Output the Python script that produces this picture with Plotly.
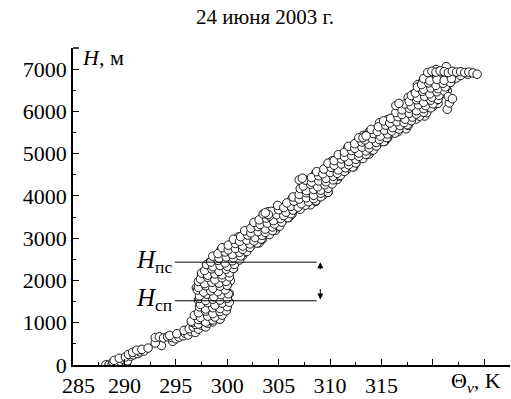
import plotly.graph_objects as go

# ---------------- data ----------------
theta_low = [288.2, 288.5, 288.8, 289.1, 289.4, 289.7, 290.0, 290.2, 288.9, 289.3,
             289.6, 289.0, 289.9, 290.3, 289.5, 290.1, 290.6, 290.4, 290.9, 291.3,
             290.8, 291.5, 291.9, 291.2, 291.7, 292.3, 293.6, 293.0, 294.7, 293.0,
             293.4, 293.8, 294.2, 294.6, 295.0, 295.3, 294.4, 295.7, 295.1, 295.9,
             296.2, 296.5, 295.8, 296.9, 296.3, 296.7, 297.2, 297.5, 296.9, 297.9]
h_low = [5, 0, 15, 0, 10, 25, 5, 40, 70, 55,
         90, 110, 130, 100, 160, 190, 210, 250, 240, 270,
         300, 310, 330, 350, 370, 400, 460, 520, 560, 650,
         665, 640, 670, 650, 620, 660, 700, 690, 740, 750,
         710, 790, 820, 770, 860, 900, 850, 940, 960, 900]

theta_mid = [
    296.6, 297.2, 297.7, 298.1, 298.6,   297.3, 297.9, 298.4, 298.9, 299.3,
    297.2, 297.8, 298.4, 299.0, 299.3,   297.7, 298.3, 298.8, 299.2, 299.7,
    298.0, 298.6, 299.1, 299.6, 300.0,   297.2, 298.0, 298.8, 299.6, 300.0,
    297.4, 298.2, 298.8, 299.4, 300.0,   297.6, 298.3, 299.0, 299.6, 300.2,
    297.0, 297.8, 298.6, 299.4, 299.8,   297.3, 298.1, 298.7, 299.3, 299.9,
    297.7, 298.4, 299.1, 299.7, 300.3,   297.5, 298.2, 298.9, 299.6, 300.0,
    298.0, 298.7, 299.2, 299.7, 300.2,   298.4, 299.1, 299.6, 300.2, 300.6,
    298.3, 299.0, 299.6, 300.3, 300.6,   298.8, 299.5, 300.0, 300.5, 301.0,
    299.3, 300.0, 300.5, 301.1, 301.5,   299.4, 300.0, 300.7, 301.4, 301.7,
    300.1, 300.8, 301.3, 301.8, 302.3,   300.9, 301.6, 302.1, 302.7, 303.1,
    301.1, 301.7, 302.4, 303.1, 303.4,   301.8, 302.5, 303.0, 303.5, 304.0,
    302.5, 303.2, 303.7, 304.3, 304.7,   302.6, 303.2, 303.9, 304.6, 304.9,
    303.2, 303.9, 304.4, 304.9, 305.4,   303.8, 304.5, 305.0, 305.6, 306.0,
    304.0, 304.6, 305.3, 306.0, 306.3,   304.9, 305.6, 306.1, 306.6, 307.1,
    305.9, 306.6, 307.1, 307.7, 308.1,   306.3, 306.9, 307.6, 308.3, 308.6,
    307.1, 307.8, 308.3, 308.8, 309.3,   307.6, 308.3, 308.8, 309.4, 309.8,
    307.4, 308.0, 308.7, 309.4, 309.7,   307.3, 308.3, 309.0, 309.6, 310.2,
    308.3, 309.1, 309.7, 310.3, 310.7,   308.6, 309.2, 309.9, 310.6, 310.9,
    309.4, 310.1, 310.6, 311.1, 311.6,   310.1, 310.8, 311.3, 311.9, 312.3,
    310.2, 310.8, 311.5, 312.2, 312.5,   310.9, 311.6, 312.1, 312.6, 313.1,
    311.6, 312.3, 312.8, 313.4, 313.8,   311.7, 312.3, 313.0, 313.7, 314.0,
    312.4, 313.1, 313.6, 314.1, 314.6,   313.1, 313.8, 314.3, 314.9, 315.3,
    313.2, 313.9, 314.6, 315.3, 315.6,   313.8, 314.6, 315.3, 315.9, 316.6,
    314.7, 315.5, 316.2, 316.9, 317.4,   314.8, 315.6, 316.4, 317.2, 317.6,
    315.6, 316.4, 317.1, 317.7, 318.4,   316.5, 317.3, 318.0, 318.7, 319.2,
    316.6, 317.4, 318.2, 319.0, 319.4,   317.2, 318.0, 318.7, 319.3, 320.0,
    317.8, 318.6, 319.3, 320.0, 320.5,   317.6, 318.4, 319.2, 320.0, 320.4,
    318.1, 318.9, 319.6, 320.2, 320.9,   318.7, 319.5, 320.2, 320.9, 321.4,
    318.5, 319.3, 320.1, 320.9, 321.3,   319.0, 319.8, 320.5, 321.1, 321.8,
    319.6, 320.4, 321.1, 321.8, 322.3,
]
h_mid = [
    1010, 970, 1040, 990, 1020,   1080, 1130, 1060, 1110, 1090,
    1230, 1200, 1180, 1240, 1170,   1310, 1270, 1340, 1290, 1320,
    1380, 1430, 1360, 1410, 1390,   1530, 1500, 1480, 1540, 1470,
    1610, 1570, 1640, 1590, 1620,   1680, 1730, 1660, 1710, 1690,
    1830, 1800, 1780, 1840, 1770,   1910, 1870, 1940, 1890, 1920,
    1980, 2030, 1960, 2010, 1990,   2130, 2100, 2080, 2140, 2070,
    2210, 2170, 2240, 2190, 2220,   2280, 2330, 2260, 2310, 2290,
    2430, 2400, 2380, 2440, 2370,   2510, 2470, 2540, 2490, 2520,
    2580, 2630, 2560, 2610, 2590,   2730, 2700, 2680, 2740, 2670,
    2810, 2770, 2840, 2790, 2820,   2880, 2930, 2860, 2910, 2890,
    3030, 3000, 2980, 3040, 2970,   3110, 3070, 3140, 3090, 3120,
    3180, 3230, 3160, 3210, 3190,   3330, 3300, 3280, 3340, 3270,
    3410, 3370, 3440, 3390, 3420,   3480, 3530, 3460, 3510, 3490,
    3630, 3600, 3580, 3640, 3570,   3710, 3670, 3740, 3690, 3720,
    3780, 3830, 3760, 3810, 3790,   3930, 3900, 3880, 3940, 3870,
    4010, 3970, 4040, 3990, 4020,   4080, 4130, 4060, 4110, 4090,
    4230, 4200, 4180, 4240, 4170,   4310, 4270, 4340, 4290, 4320,
    4380, 4430, 4360, 4410, 4390,   4530, 4500, 4480, 4540, 4470,
    4610, 4570, 4640, 4590, 4620,   4680, 4730, 4660, 4710, 4690,
    4830, 4800, 4780, 4840, 4770,   4910, 4870, 4940, 4890, 4920,
    4980, 5030, 4960, 5010, 4990,   5130, 5100, 5080, 5140, 5070,
    5210, 5170, 5240, 5190, 5220,   5280, 5330, 5260, 5310, 5290,
    5430, 5400, 5380, 5440, 5370,   5510, 5470, 5540, 5490, 5520,
    5580, 5630, 5560, 5610, 5590,   5730, 5700, 5680, 5740, 5670,
    5810, 5770, 5840, 5790, 5820,   5880, 5930, 5860, 5910, 5890,
    6030, 6000, 5980, 6040, 5970,   6110, 6070, 6140, 6090, 6120,
    6180, 6230, 6160, 6210, 6190,   6330, 6300, 6280, 6340, 6270,
    6410, 6370, 6440, 6390, 6420,   6480, 6530, 6460, 6510, 6490,
    6630, 6600, 6580, 6640, 6570,   6710, 6670, 6740, 6690, 6720,
    6780, 6830, 6760, 6810, 6790,
]

# second sounding pass (descent), read between the first-pass rows
theta_mid2 = [
    296.5, 297.2, 297.9, 298.6, 299.3,   296.8, 297.4, 298.1, 298.8, 299.5,
    297.2, 297.9, 298.6, 299.3, 299.9,   297.3, 297.9, 298.6, 299.3, 300.0,
    297.4, 298.1, 298.8, 299.5, 300.2,   297.3, 297.9, 298.6, 299.3, 300.0,
    297.3, 298.0, 298.7, 299.4, 300.1,   297.1, 297.7, 298.4, 299.1, 299.8,
    297.2, 297.9, 298.6, 299.3, 300.0,   297.2, 297.8, 298.5, 299.2, 299.9,
    297.4, 298.1, 298.8, 299.5, 300.2,   297.5, 298.1, 298.8, 299.5, 300.2,
    297.8, 298.5, 299.2, 299.9, 300.6,   298.0, 298.6, 299.3, 300.0, 300.7,
    298.4, 299.1, 299.8, 300.5, 301.2,   298.6, 299.2, 299.9, 300.6, 301.3,
    299.1, 299.8, 300.5, 301.2, 301.9,   299.5, 300.1, 300.8, 301.5, 302.2,
    300.1, 300.8, 301.5, 302.2, 302.9,   300.6, 301.2, 301.9, 302.6, 303.3,
    301.3, 302.0, 302.7, 303.4, 304.1,   301.7, 302.3, 303.0, 303.7, 304.4,
    302.3, 303.0, 303.7, 304.4, 305.1,   302.6, 303.2, 303.9, 304.6, 305.3,
    303.1, 303.8, 304.5, 305.2, 305.9,   303.5, 304.1, 304.8, 305.5, 306.2,
    304.3, 305.0, 305.7, 306.4, 307.1,   304.9, 305.5, 306.2, 306.9, 307.6,
    305.8, 306.5, 307.2, 307.9, 308.6,   306.4, 307.0, 307.7, 308.4, 309.1,
    307.0, 307.7, 308.4, 309.1, 309.8,   307.1, 307.7, 308.4, 309.1, 309.8,
    307.4, 308.1, 308.8, 309.5, 310.2,   307.6, 308.2, 308.9, 309.6, 310.3,
    308.2, 308.9, 309.6, 310.3, 311.0,   308.7, 309.3, 310.0, 310.7, 311.4,
    309.4, 310.1, 310.8, 311.5, 312.2,   309.8, 310.4, 311.1, 311.8, 312.5,
    310.4, 311.1, 311.8, 312.5, 313.2,   310.8, 311.4, 312.1, 312.8, 313.5,
    311.4, 312.1, 312.8, 313.5, 314.2,   311.8, 312.4, 313.1, 313.8, 314.5,
    312.4, 313.1, 313.8, 314.5, 315.2,   312.8, 313.4, 314.1, 314.8, 315.5,
    313.5, 314.2, 314.9, 315.6, 316.3,   314.0, 314.6, 315.3, 316.0, 316.7,
    314.7, 315.4, 316.1, 316.8, 317.5,   315.2, 315.8, 316.5, 317.2, 317.9,
    315.9, 316.6, 317.3, 318.0, 318.7,   316.4, 317.0, 317.7, 318.4, 319.1,
    317.0, 317.7, 318.4, 319.1, 319.8,   317.3, 317.9, 318.6, 319.3, 320.0,
    317.7, 318.4, 319.1, 319.8, 320.5,   317.9, 318.5, 319.2, 319.9, 320.6,
    318.3, 319.0, 319.7, 320.4, 321.1,   318.5, 319.1, 319.8, 320.5, 321.2,
    318.9, 319.6, 320.3, 321.0, 321.7,   319.1, 319.7, 320.4, 321.1, 321.8,
]
h_mid2 = [
    1035, 1075, 1015, 1065, 1085,   1175, 1125, 1155, 1135, 1180,
    1235, 1275, 1215, 1265, 1285,   1375, 1325, 1355, 1335, 1380,
    1435, 1475, 1415, 1465, 1485,   1575, 1525, 1555, 1535, 1580,
    1635, 1675, 1615, 1665, 1685,   1775, 1725, 1755, 1735, 1780,
    1835, 1875, 1815, 1865, 1885,   1975, 1925, 1955, 1935, 1980,
    2035, 2075, 2015, 2065, 2085,   2175, 2125, 2155, 2135, 2180,
    2235, 2275, 2215, 2265, 2285,   2375, 2325, 2355, 2335, 2380,
    2435, 2475, 2415, 2465, 2485,   2575, 2525, 2555, 2535, 2580,
    2635, 2675, 2615, 2665, 2685,   2775, 2725, 2755, 2735, 2780,
    2835, 2875, 2815, 2865, 2885,   2975, 2925, 2955, 2935, 2980,
    3035, 3075, 3015, 3065, 3085,   3175, 3125, 3155, 3135, 3180,
    3235, 3275, 3215, 3265, 3285,   3375, 3325, 3355, 3335, 3380,
    3435, 3475, 3415, 3465, 3485,   3575, 3525, 3555, 3535, 3580,
    3635, 3675, 3615, 3665, 3685,   3775, 3725, 3755, 3735, 3780,
    3835, 3875, 3815, 3865, 3885,   3975, 3925, 3955, 3935, 3980,
    4035, 4075, 4015, 4065, 4085,   4175, 4125, 4155, 4135, 4180,
    4235, 4275, 4215, 4265, 4285,   4375, 4325, 4355, 4335, 4380,
    4435, 4475, 4415, 4465, 4485,   4575, 4525, 4555, 4535, 4580,
    4635, 4675, 4615, 4665, 4685,   4775, 4725, 4755, 4735, 4780,
    4835, 4875, 4815, 4865, 4885,   4975, 4925, 4955, 4935, 4980,
    5035, 5075, 5015, 5065, 5085,   5175, 5125, 5155, 5135, 5180,
    5235, 5275, 5215, 5265, 5285,   5375, 5325, 5355, 5335, 5380,
    5435, 5475, 5415, 5465, 5485,   5575, 5525, 5555, 5535, 5580,
    5635, 5675, 5615, 5665, 5685,   5775, 5725, 5755, 5735, 5780,
    5835, 5875, 5815, 5865, 5885,   5975, 5925, 5955, 5935, 5980,
    6035, 6075, 6015, 6065, 6085,   6175, 6125, 6155, 6135, 6180,
    6235, 6275, 6215, 6265, 6285,   6375, 6325, 6355, 6335, 6380,
    6435, 6475, 6415, 6465, 6485,   6575, 6525, 6555, 6535, 6580,
    6635, 6675, 6615, 6665, 6685,   6775, 6725, 6755, 6735, 6780,
]

# isolated points and the level flight at the top
theta_top = [321.4, 321.6, 321.5, 322.7, 323.4, 320.3, 321.3,
             307.0, 307.3, 304.0, 303.7, 313.2, 313.5, 316.4, 316.7, 321.9,
             319.5, 319.9, 320.3, 320.7, 321.1, 321.5, 321.9, 322.3, 322.7,
             323.1, 323.5, 323.9, 324.3]
h_top = [6050, 6200, 6350, 6850, 6880, 6990, 7060,
         4380, 4420, 3560, 3600, 5380, 5420, 6140, 6190, 6300,
         6920, 6950, 6930, 6960, 6940, 6920, 6950, 6930, 6940,
         6920, 6930, 6910, 6880]

# layer heights H_пс (upper) and H_сп (lower)
layer_h = [2433, 1520]
layer_names = ["пс", "сп"]
layer_x = [294.9, 308.7]
arrow_x = 309.05
arrow_from = [2229, 1832]
arrow_to = [2433, 1550]

x_tickvals = [285, 290, 295, 300, 305, 310, 315, 320, 325]
x_ticktext = ["\u00a0\u00a0285", "290", "295", "300", "305", "310", "315", "", ""]
y_tickvals = [0, 1000, 2000, 3000, 4000, 5000, 6000, 7000]
y_ticktext = ["0", "1000", "2000", "3000", "4000", "5000", "6000", "7000"]

title_text = "24 июня 2003 г."
y_title = "<i>H</i>, м"
x_title = "Θ<sub><i>v</i></sub>, K"

# ---------------- figure ----------------
FONT = "Liberation Serif, Times New Roman, serif"
theta = theta_low + theta_mid + theta_mid2 + theta_top
height = h_low + h_mid + h_mid2 + h_top

fig = go.Figure()
fig.add_trace(go.Scatter(
    x=theta, y=height, mode="markers",
    marker=dict(symbol="circle", size=8.5, color="white",
                line=dict(color="black", width=0.9)),
    showlegend=False, hoverinfo="skip"))

for hv in layer_h:
    fig.add_shape(type="line", xref="x", yref="y",
                  x0=layer_x[0], x1=layer_x[1], y0=hv, y1=hv,
                  line=dict(color="black", width=1))

for hv, nm in zip(layer_h, layer_names):
    fig.add_annotation(x=layer_x[0], y=hv, xref="x", yref="y",
                       xanchor="right", yanchor="middle", showarrow=False,
                       text=f"<i>H</i><sub>{nm}</sub>",
                       font=dict(family=FONT, size=25, color="black"),
                       xshift=-1, yshift=1)

for a0, a1 in zip(arrow_from, arrow_to):
    fig.add_annotation(x=arrow_x, y=a1, ax=arrow_x, ay=a0,
                       xref="x", yref="y", axref="x", ayref="y",
                       text="", showarrow=True, arrowhead=2,
                       arrowsize=1.2, arrowwidth=1, arrowcolor="black")

fig.add_annotation(x=(265 - 73) / 437, y=(369 - 17) / 321, xref="paper", yref="paper",
                   text=title_text, showarrow=False, xanchor="center", yanchor="middle",
                   font=dict(family=FONT, size=21, color="black"))
fig.add_annotation(x=(80 - 73) / 437, y=(369 - 58) / 321, xref="paper", yref="paper",
                   text=y_title, showarrow=False, xanchor="left", yanchor="middle",
                   font=dict(family=FONT, size=22, color="black"))
fig.add_annotation(x=(503 - 73) / 437, y=(369 - 386) / 321, xref="paper", yref="paper",
                   text=x_title, showarrow=False, xanchor="right", yanchor="middle",
                   font=dict(family=FONT, size=22, color="black"))

# top cap of the y axis
fig.add_shape(type="line", xref="paper", yref="paper", x0=0, x1=6 / 437, y0=1, y1=1,
              line=dict(color="black", width=1.5))

fig.update_xaxes(range=[285, 327.5], showgrid=False, zeroline=False,
                 showline=True, linecolor="black", linewidth=1.5,
                 tickmode="array", tickvals=x_tickvals, ticktext=x_ticktext,
                 ticks="inside", ticklen=6, tickwidth=1, tickcolor="black",
                 minor=dict(dtick=2.5, tick0=285, ticks="inside", ticklen=3,
                            tickwidth=1, tickcolor="black", showgrid=False),
                 tickfont=dict(family=FONT, size=22, color="black"))
fig.update_yaxes(range=[0, 7500], showgrid=False, zeroline=False,
                 showline=True, linecolor="black", linewidth=1.5,
                 tickmode="array", tickvals=y_tickvals, ticktext=y_ticktext,
                 ticks="inside", ticklen=6, tickwidth=1, tickcolor="black",
                 minor=dict(dtick=500, tick0=0, ticks="inside", ticklen=3,
                            tickwidth=1, tickcolor="black", showgrid=False),
                 tickfont=dict(family=FONT, size=22, color="black"))

fig.update_layout(width=511, height=399,
                  margin=dict(l=73, r=1, t=48, b=30),
                  font=dict(family=FONT, color="black"),
                  paper_bgcolor="white", plot_bgcolor="white",
                  showlegend=False)

fig.write_html("out.html")
